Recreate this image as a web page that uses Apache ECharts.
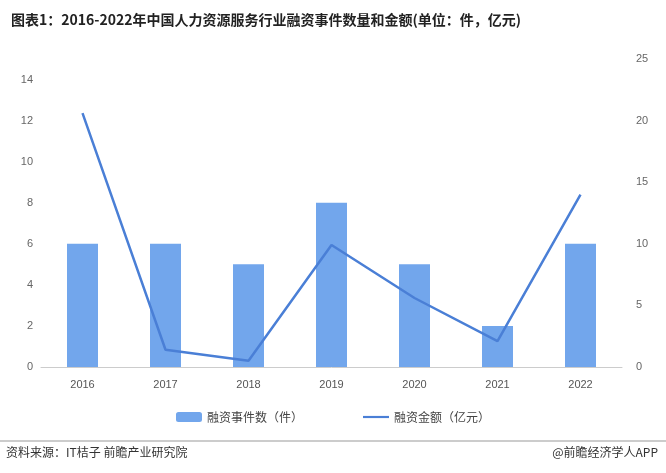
<!DOCTYPE html>
<html>
<head>
<meta charset="utf-8">
<script src="https://cdn.jsdelivr.net/npm/echarts@6/dist/echarts.min.js"></script>
<style>
  html, body { margin: 0; padding: 0; background: #fff; }
  #chart { width: 666px; height: 473px; }
</style>
</head>
<body>
<div id="chart"></div>
<script>
const years = ['2016', '2017', '2018', '2019', '2020', '2021', '2022'];
const eventCounts = [6, 6, 5, 8, 5, 2, 6];
const amounts = [20.6, 1.4, 0.5, 9.9, 5.6, 2.1, 14.0];

const chart = echarts.init(document.getElementById('chart'));
const font = '"Noto Sans CJK SC", "Noto Sans", sans-serif';

chart.setOption({
  backgroundColor: '#fff',
  animation: false,
  title: {
    text: '图表1：2016-2022年中国人力资源服务行业融资事件数量和金额(单位：件，亿元)',
    left: 6,
    top: 8,
    textStyle: { fontSize: 14, fontWeight: 'bold', color: '#222', fontFamily: font }
  },
  graphic: [
    { type: 'line', shape: { x1: 0, y1: 441, x2: 666, y2: 441 }, style: { stroke: '#999', lineWidth: 1 } },
    { type: 'text', left: 6, top: 446, style: { text: '资料来源：IT桔子 前瞻产业研究院', fontSize: 12, fill: '#333', fontFamily: font } },
    { type: 'text', right: 8, top: 446, style: { text: '@前瞻经济学人APP', fontSize: 12, fill: '#333', fontFamily: font } }
  ],
  legend: {
    bottom: 45,
    left: 'center',
    itemGap: 60,
    itemWidth: 26,
    itemHeight: 10,
    textStyle: { fontSize: 12, color: '#444', fontFamily: font },
    data: [
      { name: '融资事件数（件）' },
      { name: '融资金额（亿元）', icon: 'path://M0,4L30,4L30,6.5L0,6.5Z' }
    ]
  },
  grid: { left: 41, right: 44, top: 59, bottom: 106 },
  xAxis: {
    type: 'category',
    data: years,
    axisTick: { show: false },
    axisLine: { lineStyle: { color: '#ccc' } },
    axisLabel: { color: '#555', fontSize: 11, margin: 12 }
  },
  yAxis: [
    {
      type: 'value', min: 0, max: 15, interval: 2,
      splitLine: { show: false },
      axisLabel: { color: '#666', fontSize: 11, showMaxLabel: false }
    },
    {
      type: 'value', min: 0, max: 25, interval: 5,
      splitLine: { show: false },
      axisLabel: { color: '#666', fontSize: 11, margin: 14 }
    }
  ],
  series: [
    {
      name: '融资事件数（件）',
      type: 'bar',
      data: eventCounts,
      barWidth: 31,
      itemStyle: { color: '#72a6ec' }
    },
    {
      name: '融资金额（亿元）',
      type: 'line',
      yAxisIndex: 1,
      data: amounts,
      symbol: 'none',
      lineStyle: { color: '#4a7fd6', width: 2.5 },
      itemStyle: { color: '#4a7fd6' }
    }
  ]
});
</script>
</body>
</html>
